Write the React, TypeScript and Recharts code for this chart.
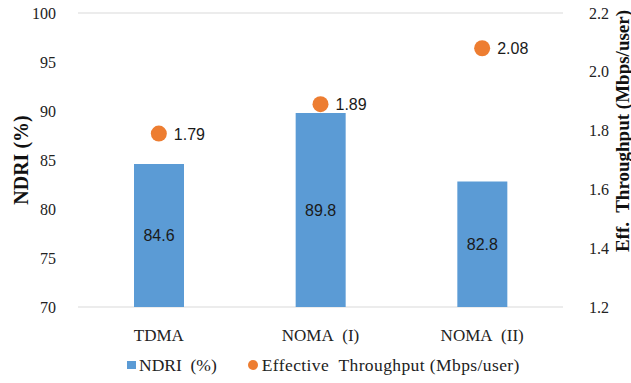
import React from 'react';
import {
  ComposedChart,
  Bar,
  Scatter,
  XAxis,
  YAxis,
  CartesianGrid,
  Legend,
  LabelList,
} from 'recharts';

const schemes = ['TDMA', 'NOMA\u00A0 (I)', 'NOMA\u00A0 (II)'];
const ndri = [84.6, 89.8, 82.8];
const throughput = [1.79, 1.89, 2.08];
const leftTicks = [70, 75, 80, 85, 90, 95, 100];
const rightTicks = [1.2, 1.4, 1.6, 1.8, 2.0, 2.2];

const data = schemes.map((name, i) => ({ name, ndri: ndri[i], tp: throughput[i] }));

const BLUE = '#5B9BD5';
const ORANGE = '#ED7D31';
const SERIF = '"Liberation Serif", "Times New Roman", serif';
const SANS = '"Liberation Sans", Arial, sans-serif';

const ThroughputDot = (props: any) => {
  const { cx, cy, payload } = props;
  return (
    <g>
      <circle cx={cx} cy={cy} r={8} fill={ORANGE} />
      <text x={cx + 15} y={cy} dy={6} fontFamily={SANS} fontSize={16} fill="#1a1a1a">
        {payload.tp.toFixed(2)}
      </text>
    </g>
  );
};

const RightTitle = () => (
  <text
    x={622}
    y={131}
    transform="rotate(-90 622 131)"
    textAnchor="middle"
    dominantBaseline="central"
    fontFamily={SERIF}
    fontSize={19}
    fontWeight="bold"
    fill="#111"
    style={{ whiteSpace: 'pre' }}
  >
    {'Eff.  Throughput (Mbps/user)'}
  </text>
);

const legendText: React.CSSProperties = {
  fontFamily: SERIF,
  fontSize: 17.5,
  color: '#222',
  whiteSpace: 'pre',
  lineHeight: '20px',
};

const LegendContent = () => (
  <div
    style={{
      display: 'flex',
      alignItems: 'center',
      paddingLeft: 127,
      paddingTop: 8,
      height: 20,
    }}
  >
    <span style={{ display: 'inline-block', width: 9, height: 8, background: BLUE, marginRight: 3 }} />
    <span style={legendText}>{'NDRI  (%)'}</span>
    <span
      style={{
        display: 'inline-block',
        width: 10,
        height: 10,
        borderRadius: 5,
        background: ORANGE,
        marginLeft: 31,
        marginRight: 4,
      }}
    />
    <span style={{ ...legendText, letterSpacing: 0.4 }}>{'Effective  Throughput (Mbps/user)'}</span>
  </div>
);

export default function App() {
  return (
    <div style={{ position: 'absolute', left: 0, top: 0, background: '#fff' }}>
      <ComposedChart
        width={631}
        height={383}
        data={data}
        margin={{ top: 13, right: 0, left: 0, bottom: 0 }}
      >
        <CartesianGrid vertical={false} stroke="#d9d9d9" />
        <XAxis
          dataKey="name"
          axisLine={false}
          tickLine={false}
          height={40}
          tickMargin={16}
          tick={{ fontFamily: SERIF, fontSize: 17, fill: '#222' }}
        />
        <YAxis
          yAxisId="left"
          domain={[70, 100]}
          ticks={leftTicks}
          width={78}
          axisLine={false}
          tickLine={false}
          tickMargin={16}
          tick={{ fontFamily: SERIF, fontSize: 16, fill: '#222' }}
          label={{
            value: 'NDRI (%)',
            angle: -90,
            position: 'insideLeft',
            offset: 21,
            style: { fontFamily: SERIF, fontSize: 20, fontWeight: 'bold', fill: '#111', textAnchor: 'middle' },
          }}
        />
        <YAxis
          yAxisId="right"
          orientation="right"
          domain={[1.2, 2.2]}
          ticks={rightTicks}
          tickFormatter={(v: number) => v.toFixed(1)}
          width={68}
          axisLine={false}
          tickLine={false}
          tickMargin={20}
          tick={{ fontFamily: SERIF, fontSize: 16, fill: '#222' }}
          label={<RightTitle />}
        />
        <Bar yAxisId="left" dataKey="ndri" fill={BLUE} barSize={50} isAnimationActive={false}>
          <LabelList
            dataKey="ndri"
            position="center"
            style={{ fontFamily: SANS, fontSize: 16, fill: '#1a1a1a' }}
            formatter={(v: number) => v.toFixed(1)}
          />
        </Bar>
        <Scatter yAxisId="right" dataKey="tp" fill={ORANGE} shape={ThroughputDot} isAnimationActive={false} />
        <Legend verticalAlign="bottom" height={36} content={LegendContent} />
      </ComposedChart>
    </div>
  );
}
